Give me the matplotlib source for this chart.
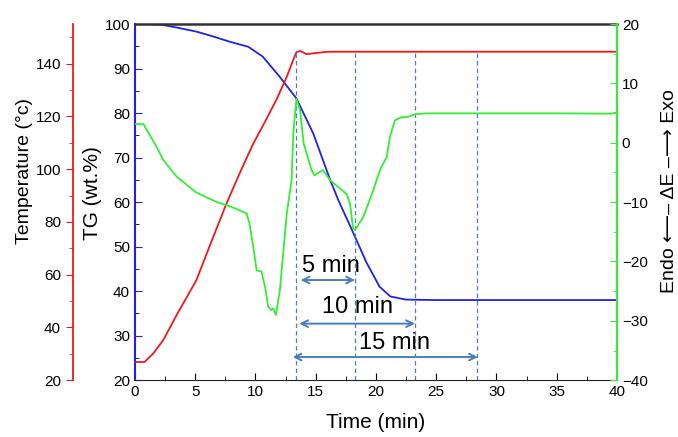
import numpy as np
import matplotlib
matplotlib.use("Agg")
from matplotlib import pyplot as plt
from matplotlib.ticker import MultipleLocator

plt.rcParams['font.family'] = ['Liberation Sans', 'DejaVu Sans']

# temperature (red, outer left axis)
temp_t = [0, 0.8, 1.5, 2.35, 3.5, 5.1, 6.3, 7.6, 8.7, 9.8, 10.8, 11.76, 12.6, 13.1, 13.4, 13.7, 14.25, 15.0, 16, 20, 25, 30, 35, 40]
temp_c = [26.9, 26.9, 30, 35.2, 45, 57.9, 72, 87, 98.5, 109.5, 118, 126.5, 135, 141, 144.3, 144.8, 143.6, 144.0, 144.5, 144.5, 144.5, 144.5, 144.5, 144.5]

# TG (blue, inner left axis)
tg_t = [0, 1, 2.3, 3.5, 5.1, 6.5, 7.9, 9.4, 10.6, 12.0, 13.4, 14.8, 16.2, 16.87, 18.3, 19.2, 20.3, 21.2, 22.5, 25, 30, 35, 40]
tg_w = [100, 100, 99.8, 99.2, 98.3, 97.2, 96, 94.9, 92.7, 88.2, 83.3, 75.4, 65, 60.5, 52, 46.5, 41, 38.8, 38.1, 38.0, 38, 38, 38]

# heat flow dE (green, right axis)
de_t = [0, 0.7, 1.8, 2.35, 3.46, 5.1, 6.8, 8.0, 9.27, 9.5, 9.82, 10.1, 10.5, 10.8, 11.06, 11.3, 11.48, 11.7, 12.03, 12.6, 13.0,
        13.14, 13.4, 13.7, 14.0, 14.66, 14.9, 15.6, 16.2, 17.0, 17.57, 17.84, 18.1, 18.26, 18.95, 19.78, 20.33, 20.89, 21.16,
        21.58, 22.13, 22.68, 23.24, 24.2, 30, 35, 39.5, 40]
de_v = [3.15, 3.15, -0.7, -2.9, -5.7, -8.4, -10.0, -10.8, -11.9, -13.6, -17.5, -21.5, -21.7, -24.3, -27.6, -28.2, -27.9, -29.0, -24.8, -11.9, -6.3,
        1.6, 7.4, 5.5, -0.1, -4.6, -5.5, -4.6, -6.3, -7.7, -8.65, -10.2, -14.4, -14.7, -12.5, -8.0, -4.6, -2.4, 1.0,
        3.8, 4.3, 4.4, 4.8, 4.95, 4.95, 4.95, 4.9, 5.1]

# holding-time markers
mark_t = [13.4, 18.26, 23.2, 28.35]
plateau_temp = 144.5
span_labels = ["5 min", "10 min", "15 min"]
span_start = [13.75, 13.63, 13.09]
span_end = [18.26, 23.24, 28.46]
span_y = [42.5, 32.7, 25.2]
label_x = [16.27, 18.48, 21.58]
label_y = [44.3, 35.0, 27.1]

RED = '#f01818'
BLUE = '#2222dd'
GREEN = '#33ee33'
MARK = '#4a7ebb'

fig = plt.figure(figsize=(6.78, 4.37), dpi=100)
ax = fig.add_axes([0.199, 0.130, 0.711, 0.815])
ax_t = ax.twinx()
ax_e = ax.twinx()

ax_t.plot(temp_t, temp_c, color=RED, lw=1.3)
ax.plot(tg_t, tg_w, color=BLUE, lw=1.3)
ax_e.plot(de_t, de_v, color=GREEN, lw=1.3)
ax_t.vlines(mark_t, 20, plateau_temp, colors=MARK, linestyles=(0, (3.5, 2.5)), lw=0.9)

for txt, x0, x1, y, tx, ty in zip(span_labels, span_start, span_end, span_y, label_x, label_y):
    ax.annotate('', xy=(x1, y), xytext=(x0, y),
                arrowprops=dict(arrowstyle='<->', color=MARK, lw=1.4, shrinkA=0, shrinkB=0, mutation_scale=12))
    ax.text(tx, ty, txt, fontsize=17, ha='center', va='baseline')

ax.set_xlim(0, 40)
ax.set_ylim(20, 100)
ax_t.set_ylim(20, 155)
ax_e.set_ylim(-40, 20)

ax.xaxis.set_major_locator(MultipleLocator(5))
ax.xaxis.set_minor_locator(MultipleLocator(2.5))
ax.yaxis.set_major_locator(MultipleLocator(10))
ax.yaxis.set_minor_locator(MultipleLocator(5))
ax.tick_params(axis='both', which='both', direction='in', labelsize=11, top=False)
ax.tick_params(axis='both', which='major', length=5)
ax.tick_params(axis='both', which='minor', length=3)
ax.tick_params(axis='y', colors=BLUE, labelcolor='black')
ax.spines['left'].set_color(BLUE)
ax.spines['left'].set_linewidth(1.5)
ax.spines['top'].set_color('#333333')
ax.spines['top'].set_linewidth(1.8)
ax.spines['bottom'].set_color('#222222')
ax.spines['right'].set_visible(False)

# temperature axis offset to the left
ax_t.spines['left'].set_visible(True)
ax_t.spines['left'].set_position(('axes', -0.1286))
ax_t.spines['left'].set_color(RED)
ax_t.spines['left'].set_linewidth(1.3)
ax_t.spines['right'].set_visible(False)
ax_t.spines['top'].set_visible(False)
ax_t.spines['bottom'].set_visible(False)
ax_t.yaxis.set_ticks_position('left')
ax_t.yaxis.set_label_position('left')
ax_t.set_yticks([20, 40, 60, 80, 100, 120, 140])
ax_t.yaxis.set_minor_locator(MultipleLocator(10))
ax_t.tick_params(axis='y', which='both', direction='out', colors=RED, labelcolor='black', labelsize=11)
ax_t.tick_params(axis='y', which='major', length=5)
ax_t.tick_params(axis='y', which='minor', length=3)

ax_e.spines['right'].set_color(GREEN)
ax_e.spines['right'].set_linewidth(1.5)
ax_e.spines['left'].set_visible(False)
ax_e.spines['top'].set_visible(False)
ax_e.spines['bottom'].set_visible(False)
ax_e.yaxis.set_major_locator(MultipleLocator(10))
ax_e.yaxis.set_minor_locator(MultipleLocator(5))
ax_e.tick_params(axis='y', which='both', direction='in', colors=GREEN, labelcolor='black', labelsize=11)
ax_e.tick_params(axis='y', which='major', length=5)
ax_e.tick_params(axis='y', which='minor', length=3)

ax.set_xlabel("Time (min)", fontsize=15, labelpad=10)
fig.text(25 / 678, 1 - 171.5 / 437, "Temperature (\u00b0c)", rotation=90, fontsize=14, ha='center', va='center')
fig.text(92 / 678, 1 - 193.5 / 437, "TG (wt.%)", rotation=90, fontsize=15, ha='center', va='center')
fig.text(669 / 678, 1 - 191 / 437, "Endo \u27f5\u2013 \u0394E \u2013\u27f6 Exo", rotation=90, fontsize=14,
         ha='center', va='center')

fig.savefig("out.png", dpi=100)
